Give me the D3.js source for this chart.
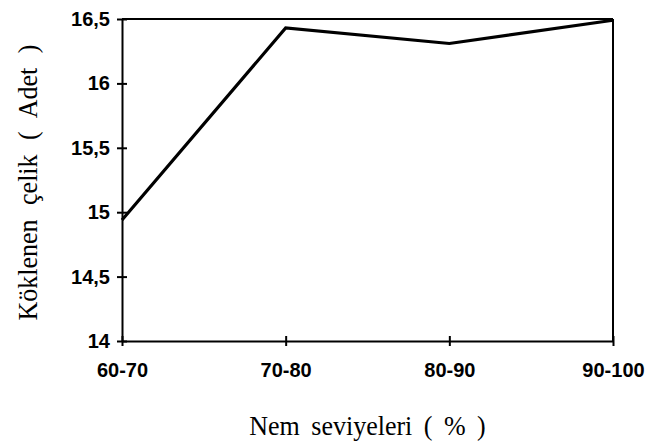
<!DOCTYPE html>
<html>
<head>
<meta charset="utf-8">
<script src="https://cdn.jsdelivr.net/npm/d3@7/dist/d3.min.js"></script>
<style>
  html, body { margin: 0; padding: 0; background: #fff; }
  svg { display: block; }
</style>
</head>
<body>
<script>
// Data
const categories = ["60-70", "70-80", "80-90", "90-100"];
const values = [14.94, 16.43, 16.31, 16.49];
const yTicks = [14, 14.5, 15, 15.5, 16, 16.5];
const yTickLabels = ["14", "14,5", "15", "15,5", "16", "16,5"];
const xTitle = "Nem seviyeleri ( % )";
const yTitle = "Köklenen çelik ( Adet )";

const W = 649, H = 445;
const margin = { top: 19, right: 36, bottom: 104, left: 122 };
const iw = W - margin.left - margin.right;
const ih = H - margin.top - margin.bottom;

const svg = d3.select("body").append("svg").attr("width", W).attr("height", H);
const g = svg.append("g").attr("transform", `translate(${margin.left},${margin.top})`);

const x = d3.scalePoint().domain(categories).range([0, iw]);
const y = d3.scaleLinear().domain([14, 16.5]).range([ih, 0]);

// frame (top and right)
g.append("line").attr("x1", 0).attr("x2", iw).attr("y1", 0).attr("y2", 0)
  .attr("stroke", "#000").attr("stroke-width", 2);
g.append("line").attr("x1", iw).attr("x2", iw).attr("y1", 0).attr("y2", ih)
  .attr("stroke", "#000").attr("stroke-width", 2);

// Y axis
const yAxis = d3.axisLeft(y).tickValues(yTicks)
  .tickFormat((d, i) => yTickLabels[i]).tickSize(0).tickPadding(12);
const yg = g.append("g").call(yAxis);
yg.select(".domain").attr("stroke", "#000").attr("stroke-width", 2);
yg.selectAll(".tick line").remove();
yg.selectAll(".tick").append("line")
  .attr("x1", -5).attr("x2", 5).attr("stroke", "#000").attr("stroke-width", 2);
yg.selectAll("text").attr("font-family", "Liberation Sans, Arial, sans-serif")
  .attr("font-weight", "bold").attr("font-size", 20).attr("fill", "#000");

// X axis
const xAxis = d3.axisBottom(x).tickSize(0).tickPadding(22);
const xg = g.append("g").attr("transform", `translate(0,${ih})`).call(xAxis);
xg.select(".domain").attr("stroke", "#000").attr("stroke-width", 2);
xg.selectAll(".tick line").remove();
xg.selectAll(".tick").append("line")
  .attr("y1", -5).attr("y2", 5).attr("stroke", "#000").attr("stroke-width", 2);
xg.selectAll("text").attr("font-family", "Liberation Sans, Arial, sans-serif")
  .attr("font-weight", "bold").attr("font-size", 20).attr("fill", "#000");

// data line
const line = d3.line().x((d, i) => x(categories[i])).y(d => y(d));
g.append("path").datum(values).attr("d", line)
  .attr("fill", "none").attr("stroke", "#000").attr("stroke-width", 3.2)
  .attr("stroke-linejoin", "miter");

// titles
svg.append("text").attr("transform", `translate(${margin.left + iw / 2},435) scale(1,1.08)`)
  .attr("text-anchor", "middle").attr("font-family", "Liberation Serif, Times New Roman, serif")
  .attr("font-size", 26).attr("fill", "#000").attr("word-spacing", 5)
  .text(xTitle);

svg.append("text").attr("transform", `translate(37,182.5) rotate(-90) scale(1,1.08)`)
  .attr("text-anchor", "middle").attr("font-family", "Liberation Serif, Times New Roman, serif")
  .attr("font-size", 26).attr("fill", "#000").attr("word-spacing", 8)
  .text(yTitle);
</script>
</body>
</html>
